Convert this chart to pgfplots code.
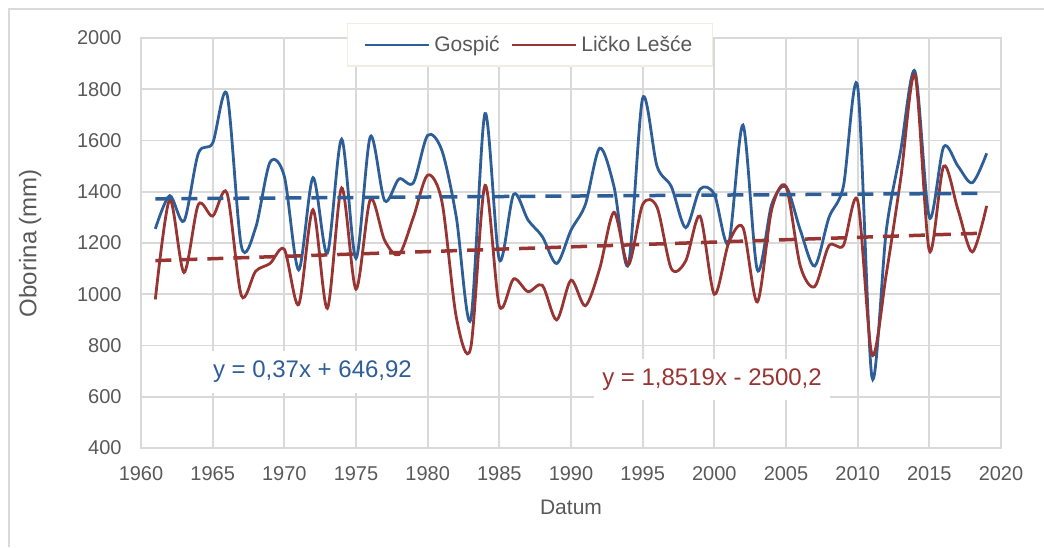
\documentclass[border=0pt]{standalone}
\usepackage{fontspec}
\setmainfont{Liberation Sans}
\usepackage{pgfplots}
\usepackage{pgfplotstable}
\pgfplotsset{compat=1.18}
\definecolor{gblue}{RGB}{46,94,152}
\definecolor{lred}{RGB}{152,52,50}
\definecolor{gridc}{RGB}{217,217,217}
\definecolor{txt}{RGB}{89,89,89}
\definecolor{legb}{RGB}{240,237,226}

\pgfplotstableread{
year gospic licko
1961 1255 980
1962 1385 1370
1963 1286 1085
1964 1550 1350
1965 1590 1305
1966 1780 1395
1967 1188 995
1968 1260 1090
1969 1515 1120
1970 1460 1175
1971 1095 960
1972 1455 1330
1973 1160 945
1974 1605 1415
1975 1140 1020
1976 1615 1370
1977 1365 1210
1978 1450 1155
1979 1435 1300
1980 1620 1465
1981 1560 1360
1982 1300 910
1983 900 790
1984 1705 1425
1985 1135 955
1986 1390 1060
1987 1290 1010
1988 1225 1035
1989 1120 900
1990 1250 1055
1991 1350 955
1992 1570 1100
1993 1420 1320
1994 1115 1115
1995 1765 1350
1996 1500 1340
1997 1420 1100
1998 1260 1130
1999 1410 1305
2000 1390 1000
2001 1200 1200
2002 1660 1260
2003 1095 970
2004 1350 1330
2005 1420 1420
2006 1250 1110
2007 1110 1030
2008 1300 1190
2009 1420 1190
2010 1810 1365
2011 675 765
2012 1250 1080
2013 1560 1450
2014 1870 1855
2015 1300 1170
2016 1575 1500
2017 1500 1330
2018 1435 1165
2019 1550 1345
}\datatable

\begin{document}
\begin{tikzpicture}
\useasboundingbox (0,0) rectangle (522pt,-273.5pt);
\draw[gridc, line width=0.75pt] (4pt,-4.6pt) -- (522pt,-4.6pt);
\draw[gridc, line width=0.75pt] (4.4pt,-4.6pt) -- (4.4pt,-273.5pt);
\begin{axis}[
  at={(70.5pt,-224pt)}, anchor=south west,
  scale only axis, width=430pt, height=205pt,
  xmin=1960, xmax=2020, ymin=400, ymax=2000,
  xtick={1960,1965,...,2020}, ytick={400,600,...,2000},
  /pgf/number format/1000 sep={},
  /pgf/number format/assume math mode=true,
  grid=major, major grid style={gridc, line width=0.9pt},
  axis line style={gridc, line width=0.9pt},
  major tick length=0pt,
  xticklabel style={font=\fontsize{10}{12}\selectfont, text=txt, yshift=-5.5pt},
  yticklabel style={font=\fontsize{10}{12}\selectfont, text=txt, xshift=-6.2pt},
  xlabel={Datum}, ylabel={Oborina (mm)},
  xlabel style={at={(axis description cs:0.5,-0.1439)}, anchor=center, font=\fontsize{10.5}{12}\selectfont, text=txt},
  ylabel style={at={(axis description cs:-0.129,0.5)}, anchor=center, font=\fontsize{12}{14}\selectfont, text=txt},
  legend image code/.code={\path (-7pt,0pt) -- (0pt,0pt); \draw[#1, line width=1.25pt] (0pt,0pt) -- (25pt,0pt);},
  legend cell align=left,
  legend columns=2,
  legend style={at={(axis description cs:0.2395,1.0366)}, anchor=north west,
    draw=legb, line width=0.75pt, fill=white, text=txt,
    font=\fontsize{10.5}{12}\selectfont,
    inner xsep=8pt, inner ysep=4pt,
    /tikz/every even column/.append style={column sep=3.5pt}},
]
\addplot[gblue, line width=1.4pt, smooth, tension=0.5] table[x=year, y=gospic] {\datatable};
\addlegendentry{Gospić}
\addplot[lred, line width=1.4pt, smooth, tension=0.5] table[x=year, y=licko] {\datatable};
\addlegendentry{Ličko Lešće}
\addplot[gblue, line width=1.75pt, dash pattern=on 8pt off 5pt, forget plot] coordinates {(1961,1372.49) (2019,1393.95)};
\addplot[lred, line width=1.75pt, dash pattern=on 8pt off 5pt, forget plot] coordinates {(1961,1131.38) (2019,1238.79)};
\node[fill=white, inner xsep=4pt, inner ysep=5pt, text=gblue, font=\fontsize{12}{14}\selectfont] at (axis cs:1971.96,696.6) {y = 0,37x + 646,92};
\node[fill=white, inner xsep=4pt, inner ysep=5pt, text=lred, font=\fontsize{12}{14}\selectfont] at (axis cs:1999.84,667.3) {y = 1,8519x - 2500,2};
\end{axis}
\end{tikzpicture}
\end{document}
